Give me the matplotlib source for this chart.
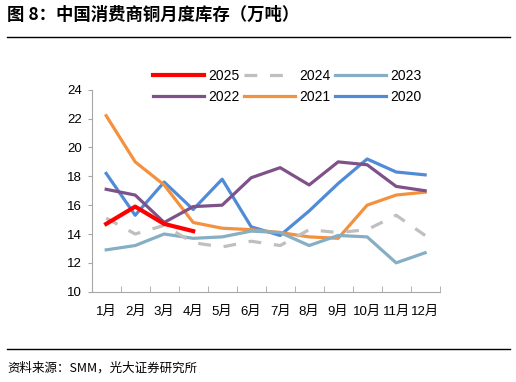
import numpy as np
import matplotlib.pyplot as plt
from matplotlib.lines import Line2D

plt.rcParams['font.family'] = ['Liberation Sans', 'Noto Sans CJK SC']

# --- Data ---
months = ['1月', '2月', '3月', '4月', '5月', '6月', '7月', '8月', '9月', '10月', '11月', '12月']
y2025 = [14.7, 15.9, 14.7, 14.2]
y2024 = [15.1, 14.0, 14.6, 13.4, 13.1, 13.5, 13.2, 14.3, 14.1, 14.3, 15.3, 13.9]
y2023 = [12.9, 13.2, 14.0, 13.7, 13.8, 14.2, 14.1, 13.2, 13.9, 13.8, 12.0, 12.7]
y2022 = [17.1, 16.7, 14.8, 15.9, 16.0, 17.9, 18.6, 17.4, 19.0, 18.8, 17.3, 17.0]
y2021 = [22.2, 19.0, 17.4, 14.8, 14.4, 14.3, 14.1, 13.8, 13.7, 16.0, 16.7, 16.9]
y2020 = [18.2, 15.3, 17.6, 15.7, 17.8, 14.5, 13.9, 15.6, 17.5, 19.2, 18.3, 18.1]

fig = plt.figure(figsize=(5.16, 3.82), dpi=100)
ax = fig.add_axes([0.1777, 0.2364, 0.6743, 0.5286])

x = np.arange(1, 13)
ax.plot(x, y2020, color='#4F8BD6', lw=2.3, label='2020')
ax.plot(x, y2021, color='#F4913E', lw=2.3, label='2021')
ax.plot(x, y2022, color='#7E5289', lw=2.3, label='2022')
ax.plot(x, y2023, color='#86AEC4', lw=2.3, label='2023')
ax.plot(x, y2024, color='#BFBFBF', lw=2.3, dashes=(4, 4), label='2024')
ax.plot(x[:len(y2025)], y2025, color='#FF0000', lw=3.0, label='2025')

ax.set_xlim(0.5, 12.5)
ax.set_ylim(10, 24)
ax.set_yticks(np.arange(10, 25, 2))
ax.set_xticks(x)
ax.set_xticklabels(months)
ax.set_xticks(np.arange(0.5, 12.6, 1), minor=True)
ax.tick_params(axis='x', which='major', length=0, labelsize=9.5, pad=10)
ax.tick_params(axis='x', which='minor', direction='in', length=4, color='#A6A6A6')
ax.tick_params(axis='y', length=3, color='#A6A6A6', labelsize=9.5, pad=4)

for s in ['top', 'right']:
    ax.spines[s].set_visible(False)
for s in ['left', 'bottom']:
    ax.spines[s].set_color('#A6A6A6')

# legend order: 2025, 2024, 2023 / 2022, 2021, 2020
handles = {l.get_label(): l for l in ax.get_lines()}
order = ['2025', '2022', '2024', '2021', '2023', '2020']
leg = ax.legend([handles[k] for k in order], order, ncol=3, frameon=False,
                loc='lower left', bbox_to_anchor=(0.14, 0.87),
                fontsize=10, handlelength=3.7, handletextpad=0.3,
                columnspacing=0.3, labelspacing=0.5)

# title and source
fig.text(0.014, 0.96, '图 8：中国消费商铜月度库存（万吨）', fontsize=12.5,
         fontweight='bold', va='center', ha='left',
         family=['Noto Sans CJK SC'])
fig.add_artist(Line2D([0.014, 0.988], [0.903, 0.903], color='black', lw=1))
fig.add_artist(Line2D([0.014, 0.988], [0.087, 0.087], color='black', lw=1))
fig.text(0.014, 0.037, '资料来源：SMM，光大证券研究所', fontsize=9,
         va='center', ha='left', family=['Noto Sans CJK SC'])

fig.savefig('out.png', dpi=100)
